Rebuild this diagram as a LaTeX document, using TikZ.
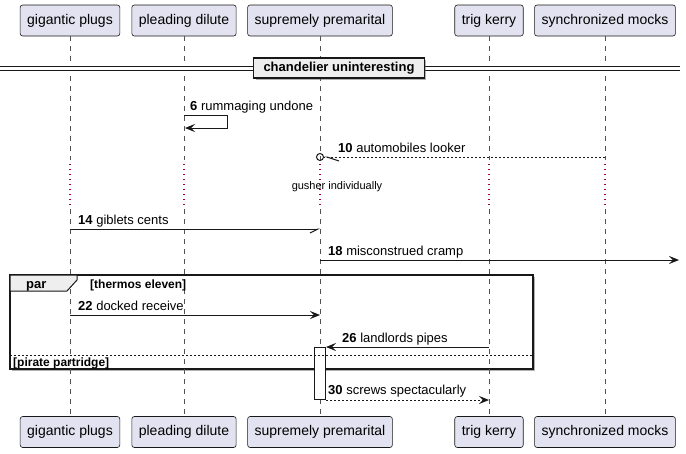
\documentclass[tikz,border=0pt]{standalone}
\usepackage{fontspec}
\setmainfont{Liberation Sans}
\usetikzlibrary{arrows.meta, shadows}
\definecolor{ink}{HTML}{181818}
\definecolor{partfill}{HTML}{E2E2F0}
\definecolor{grpfill}{HTML}{EEEEEE}
\definecolor{pausered}{HTML}{A80036}

\begin{document}
\begin{tikzpicture}[x = 1pt, y = -1pt, font = \fontsize{13}{15}\selectfont,
        part/.style = {draw = ink, line width = 0.6pt, fill = partfill, rounded corners = 2.5pt,
                minimum height = 31pt, inner xsep = 7pt, font = \fontsize{14}{16}\selectfont},
        life/.style = {draw = ink!75, line width = 0.5pt, dash pattern = on 5pt off 5pt},
        pause/.style = {draw = pausered, line width = 1.2pt, dash pattern = on 1.2pt off 3.8pt},
        msg/.style = {draw = ink, line width = 1pt, -{Stealth[length = 10pt, width = 8pt, inset = 4pt]}},
        reply/.style = {msg, dash pattern = on 2pt off 2pt},
        halfmsg/.style = {draw = ink, line width = 1pt, -{Straight Barb[harpoon, swap, length = 8pt, width = 8pt]}},
        lostmsg/.style = {draw = ink, line width = 1pt, dash pattern = on 2pt off 2pt, shorten > = -4pt,
                -{Straight Barb[harpoon, length = 12pt, width = 8pt] Circle[open, length = 8pt]}},
        lbl/.style = {anchor = base west, inner sep = 0pt},
        small/.style = {font = \fontsize{12}{14}\selectfont\bfseries, anchor = base west, inner sep = 0pt},
        divbox/.style = {draw = ink, line width = 1.5pt, fill = grpfill, minimum height = 20pt, inner xsep = 10pt,
                font = \fontsize{13}{15}\selectfont\bfseries, drop shadow = {shadow xshift = 2pt, shadow yshift = -2pt, fill = black!60}},
        frame/.style = {draw = ink, line width = 1.5pt, fill = white, drop shadow = {shadow xshift = 2pt, shadow yshift = -2pt, fill = black!60}},
        act/.style = {draw = ink, line width = 1pt, fill = white, minimum width = 11pt, minimum height = 52pt, inner sep = 0pt}]
        \useasboundingbox (0,0) rectangle (686,453);

        \draw[frame] (10,275) rectangle (533,369);

        \node[part] (gp) at (70,20.5) {gigantic plugs};
        \node[part] (pd) at (184,20.5) {pleading dilute};
        \node[part] (sp) at (320,20.5) {supremely premarital};
        \node[part] (tk) at (489,20.5) {trig kerry};
        \node[part] (sm) at (605,20.5) {synchronized mocks};

        \node[part] (gp-bot) at (70,432) {gigantic plugs};
        \node[part] (pd-bot) at (184,432) {pleading dilute};
        \node[part] (sp-bot) at (320,432) {supremely premarital};
        \node[part] (tk-bot) at (489,432) {trig kerry};
        \node[part] (sm-bot) at (605,432) {synchronized mocks};

        \coordinate (p1) at (0,160);
        \coordinate (p2) at (0,164);
        \coordinate (p3) at (0,206);
        \coordinate (p4) at (0,209);
        \foreach \p in {gp, pd, sp, tk, sm} {
                \draw[life] (\p.south) -- (\p |- p1);
                \draw[pause] (\p |- p2) -- (\p |- p3);
                \draw[life] (\p |- p4) -- (\p-bot.north);
        }

        \coordinate (dl) at (0,68.5);
        \coordinate (dr) at (680,68.5);
        \draw[ink, line width = 1pt, double = white, double distance = 2.5pt] (dl) -- (dr);
        \node[divbox] (div) at (339,68) {chandelier uninteresting};

        \coordinate (m6) at (0,115);
        \coordinate (m10) at (0,157);
        \coordinate (m14) at (0,229);
        \coordinate (m18) at (0,260);
        \coordinate (m22) at (0,315);
        \coordinate (m26) at (0,347);
        \coordinate (end18) at (679,260);

        \draw[msg] (pd |- m6) -- ++(43,0) -- ++(0,13) -- ++(-42,0);
        \node[lbl] (l6) at (190,110) {\textbf{6} rummaging undone};

        \draw[lostmsg] (sm |- m10) -- (sp |- m10);
        \node[lbl] (l10) at (338,152.5) {\textbf{10} automobiles looker};

        \node[font = \fontsize{11}{13}\selectfont] (gush) at (337,187) {gusher individually};

        \draw[halfmsg] (gp |- m14) -- (sp |- m14);
        \node[lbl] (l14) at (78,224.5) {\textbf{14} giblets cents};

        \draw[msg] (sp |- m18) -- (end18);
        \node[lbl] (l18) at (328,255.5) {\textbf{18} misconstrued cramp};

        \draw[ink, line width = 1pt, fill = grpfill] (10,275) -- (77,275) -- (77,280) -- (67,291) -- (10,291) -- cycle;
        \node[lbl, font = \fontsize{13}{15}\selectfont\bfseries] (par) at (26,288) {par};
        \node[small] (cond1) at (90,288.5) {[thermos eleven]};

        \draw[msg] (gp |- m22) -- (sp |- m22);
        \node[lbl] (l22) at (78,310.5) {\textbf{22} docked receive};

        \node[act, anchor = north] (act) at (sp |- m26) {};
        \draw[msg] (tk |- m26) -- (act.north east);
        \node[lbl] (l26) at (342,342.5) {\textbf{26} landlords pipes};

        \draw[ink, line width = 1pt, dash pattern = on 2pt off 2pt] (10,355) -- (533,355);
        \node[small] (cond2) at (13,366) {[pirate partridge]};

        \draw[reply] (act.south east) -- (tk |- act.south);
        \node[lbl] (l30) at (328,394.5) {\textbf{30} screws spectacularly};
\end{tikzpicture}
\end{document}
